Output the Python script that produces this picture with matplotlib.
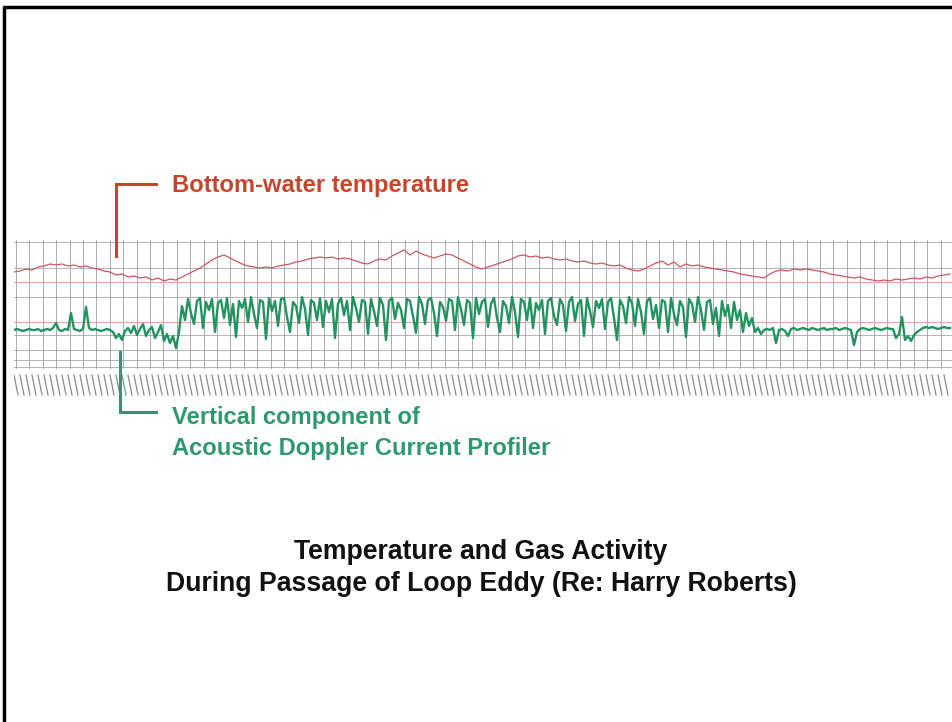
import numpy as np
import matplotlib
matplotlib.use("Agg")
import matplotlib.pyplot as plt

plt.rcParams["font.family"] = ["Liberation Sans", "DejaVu Sans"]

# strip-chart readings, one sample every 6 px for temperature, every 3 px for ADCP
temp_step = 6
bottom_temp = [
    126, 127, 129, 128, 131, 132, 134, 133, 134, 132,
    133, 131, 132, 130, 129, 127, 126, 123, 124, 121,
    122, 120, 121, 118, 120, 117, 119, 118, 121, 124,
    127, 130, 134, 138, 141, 143, 140, 137, 134, 132,
    131, 130, 131, 130, 132, 133, 134, 136, 137, 139,
    140, 141, 140, 141, 139, 140, 139, 137, 135, 134,
    137, 139, 138, 142, 145, 148, 143, 147, 144, 142,
    140, 142, 144, 143, 140, 137, 134, 131, 129, 131,
    133, 135, 137, 139, 142, 143, 141, 142, 140, 141,
    139, 138, 139, 137, 136, 137, 135, 134, 135, 133,
    132, 133, 130, 128, 127, 129, 132, 135, 137, 133,
    136, 131, 134, 132, 133, 131, 130, 129, 128, 127,
    126, 124, 123, 122, 121, 120, 124, 127, 128, 127,
    129, 128, 129, 128, 127, 126, 124, 123, 122, 121,
    120, 121, 119, 118, 117, 118, 117, 119, 118, 119,
    120, 119, 121, 120, 122, 123, 124,
]

adcp_step = 3
adcp_before = [
    68, 69, 68, 67, 68, 69, 68, 68, 69, 67,
    68, 69, 68, 70, 75, 68, 67, 69, 68, 85,
    69, 68, 67, 69, 91, 70, 68, 69, 68, 67,
    68, 69, 68,
]
adcp_onset = [
    66, 60, 64, 58, 67, 70, 65, 72, 63, 69,
    74, 62, 68, 71, 60, 66, 73, 57, 64, 55,
    62, 50, 66,
]
adcp_eddy = [
    92, 78, 99, 85, 74, 97, 100, 70, 96, 88,
    99, 66, 95, 98, 80, 100, 73, 94, 61, 97,
    90, 99, 76, 101, 84, 70, 98, 96, 59, 100,
    87, 97, 72, 99, 100, 81, 66, 96, 92, 75,
    101, 89, 63, 98, 95, 78, 100, 71, 97, 86,
    99, 60, 94, 100, 83, 97, 68, 101, 90, 76,
    98, 96, 64, 99, 87, 72, 100, 93, 58, 97,
    100, 79, 95, 88, 70, 99, 97, 82, 65, 101,
    94, 74, 98, 100, 85, 62, 96, 91, 77, 99,
    97, 68, 101, 89, 73, 98, 95, 60, 100, 84,
    96, 99, 71, 94, 100, 80, 66, 97, 92, 75,
    101, 86, 61, 99, 96, 78, 100, 70, 95, 88,
    98, 64, 97, 100, 82, 73, 99, 93, 67, 96,
    101, 77, 94, 98, 62, 100, 87, 71, 97, 90,
    99, 69, 96, 100, 80, 58, 98, 92, 75, 101,
    95, 72, 99, 86, 64, 97, 100, 79, 93, 70,
    98, 96, 66, 100, 84, 73, 97, 91, 61, 99,
    94, 76, 101, 88, 68, 96, 98, 74, 90, 62,
    97, 82, 93, 70, 96, 78, 88, 66,
]
adcp_decay = [85, 72, 80, 66, 70, 64, 68]
adcp_after = [
    69, 68, 70, 55, 68, 69, 67, 62, 69, 70,
    68, 69, 70, 69, 68, 70, 69, 68, 69, 70,
    68, 69, 69, 70, 68, 69, 70, 69, 68, 53,
    66, 69, 70, 69, 68, 69, 70, 69, 68, 69,
    70, 69, 69, 60, 64, 81, 58, 62, 57, 63,
    66, 68, 70, 71, 70, 71, 70, 69, 70, 71,
    70, 70,
]
adcp = adcp_before + adcp_onset + adcp_eddy + adcp_decay + adcp_after

red = "#c8452c"
green = "#2e9870"

fig = plt.figure(figsize=(9.53, 7.22), dpi=100)
fig.patch.set_facecolor("white")

# chart paper
ax = fig.add_axes([14 / 953, 1 - 398 / 722, 939 / 953, 158 / 722])
ax.set_xlim(0, 939)
ax.set_ylim(0, 158)
ax.axis("off")

for gx in np.arange(2, 939, 13.4):
    ax.plot([gx, gx], [30, 158], color="#8f8f8f", lw=0.7, alpha=0.75, zorder=1)
for gy in [156, 130, 101, 63, 48, 38, 31]:
    ax.axhline(gy, color="#9a9a9a", lw=0.7, alpha=0.75, zorder=1)
for gy in [116, 76]:
    ax.axhline(gy, color="#e6a3a8", lw=0.8, zorder=1)
# timing hatch along the bottom
for hx in np.arange(0, 936, 6.0):
    ax.plot([hx, hx + 4], [23, 3], color="#8a8a8a", lw=0.9, zorder=1)

tx = np.arange(len(bottom_temp)) * temp_step
ax.plot(tx, bottom_temp, color="#cc5560", lw=0.9, zorder=3)
gx_ = np.arange(len(adcp)) * adcp_step
ax.plot(gx_, adcp, color="#23935f", lw=1.7, zorder=3)

# overlay in pixel coordinates for frame, brackets and text
ov = fig.add_axes([0, 0, 1, 1])
ov.set_xlim(0, 953)
ov.set_ylim(722, 0)
ov.axis("off")
ov.patch.set_alpha(0)

ov.plot([3, 953], [7, 7], color="black", lw=2.5, solid_capstyle="butt")
ov.plot([4.5, 4.5], [6, 722], color="black", lw=2.5, solid_capstyle="butt")

ov.plot([116, 116, 156], [256, 184, 184], color=red, lw=2.2, solid_joinstyle="miter")
ov.plot([120, 120, 156], [352, 412, 412], color=green, lw=2.2, solid_joinstyle="miter")

ov.text(172, 192, "Bottom-water temperature", color=red, fontsize=17.1,
        fontweight="bold", va="baseline", ha="left")
ov.text(172, 424, "Vertical component of", color=green, fontsize=17.1,
        fontweight="bold", va="baseline", ha="left")
ov.text(172, 455, "Acoustic Doppler Current Profiler", color=green, fontsize=17.1,
        fontweight="bold", va="baseline", ha="left")

ov.text(481, 559, "Temperature and Gas Activity", color="#111111", fontsize=19.2,
        fontweight="bold", va="baseline", ha="center")
ov.text(481, 591, "During Passage of Loop Eddy (Re: Harry Roberts)", color="#111111",
        fontsize=19.2, fontweight="bold", va="baseline", ha="center")

fig.savefig("out.png", dpi=100)
